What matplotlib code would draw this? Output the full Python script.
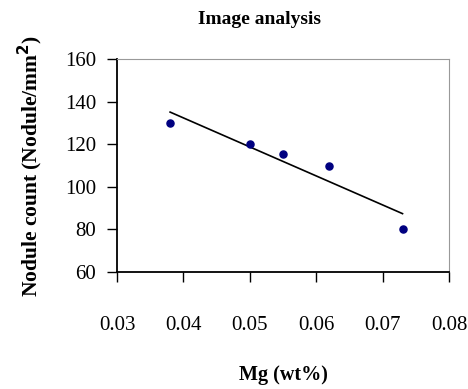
import matplotlib.pyplot as plt
import numpy as np

plt.rcParams['font.family'] = ['Liberation Serif', 'DejaVu Serif']

# data
mg = [0.038, 0.050, 0.055, 0.062, 0.073]
nodules = [130, 120, 115.5, 110, 80]
xticks = [0.03, 0.04, 0.05, 0.06, 0.07, 0.08]
yticks = [60, 80, 100, 120, 140, 160]

fig = plt.figure(figsize=(4.68, 3.89), dpi=100)
ax = fig.add_axes([117/468, 1 - 272/389, (449-117)/468, (272-59)/389])

ax.scatter(mg, nodules, s=26, color='#000080', zorder=3)

# linear trend line
k, b = np.polyfit(mg, nodules, 1)
xs = np.array([min(mg), max(mg)])
ax.plot(xs, k*xs + b, color='black', lw=1.2)

ax.set_xlim(0.03, 0.08)
ax.set_ylim(60, 160)
ax.set_xticks(xticks)
ax.set_yticks(yticks)
ax.set_xticklabels(['%.2f' % t for t in xticks])

ax.spines['left'].set_color('black')
ax.spines['bottom'].set_color('black')
ax.spines['left'].set_linewidth(1.3)
ax.spines['bottom'].set_linewidth(1.3)
ax.spines['top'].set_color('#999999')
ax.spines['right'].set_color('#999999')

ax.tick_params(axis='x', direction='out', length=7, width=1, pad=25, labelsize=15)
ax.tick_params(axis='y', direction='out', length=7, width=1, pad=8, labelsize=15)

fig.text(283/468, 1 - 375/389, 'Mg (wt%)', fontweight='bold', fontsize=14.5,
         ha='center', va='center')
fig.text(30/468, 1 - 297/389, 'Nodule count (Nodule/mm$^{\\mathbf{2}}$)', rotation=90,
         fontweight='bold', fontsize=15.5, ha='center', va='bottom')
fig.text(260/468, 1 - 20/389, 'Image analysis', fontweight='bold', fontsize=14,
         ha='center', va='center')

fig.savefig('out.png', dpi=100)
